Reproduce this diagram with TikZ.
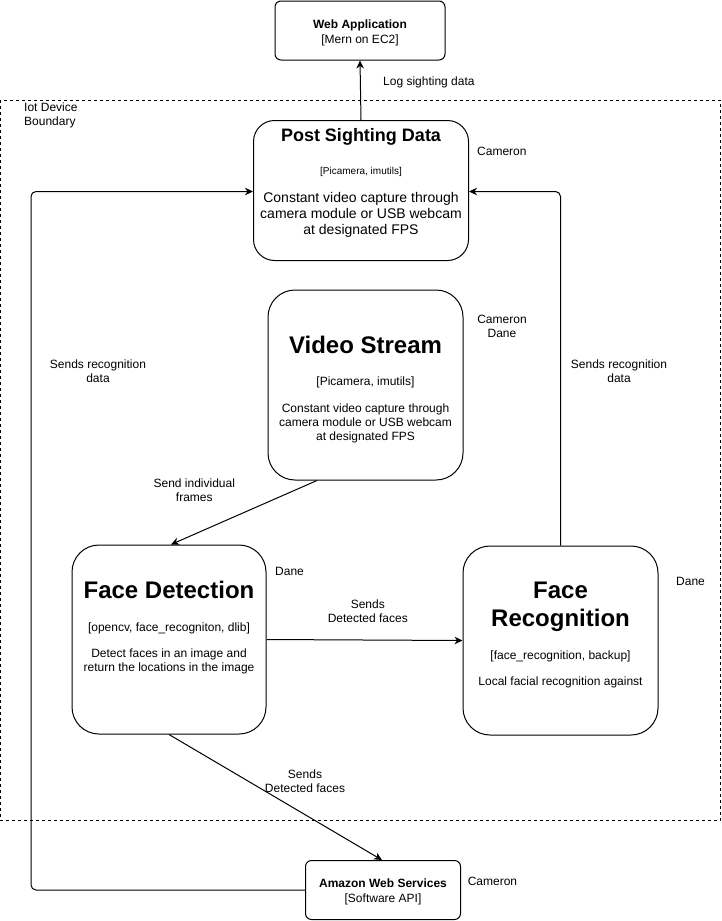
\documentclass[tikz,border=0pt]{standalone}
\usepackage{fontspec}
\setmainfont{Liberation Sans}
\usetikzlibrary{arrows.meta,calc,positioning}

\begin{document}
\begin{tikzpicture}[x=1pt,y=-1pt]
\tikzset{box/.style={draw, line width=1pt, rounded corners=#1, inner sep=0pt}}
\tikzset{txt/.style={anchor=north, align=center, inner sep=0pt}}
\tikzset{lbl/.style={inner sep=0pt, font=\fontsize{12}{14}\selectfont}}
\tikzset{arr/.style={line width=1pt, -{Stealth[length=8pt,width=7.5pt,inset=2.5pt]}}}
\useasboundingbox (0,0) rectangle (721,921);

% boundary of the device
\draw[line width=0.9pt, dash pattern=on 3pt off 3pt] (0.5,100) rectangle (720,820.5);
\node[lbl, anchor=north west, align=left] (iot) at (24,102.7) {Iot Device\\Boundary};

% boxes
\node[box=6pt, minimum width=170pt, minimum height=59pt] (WA) at (360,30.5) {};
\node[txt, font=\fontsize{12}{14.5}\selectfont] (WAt) at (360,19.7) {\textbf{Web Application}\\{}[Mern on EC2]};

\node[box=21pt, minimum width=215pt, minimum height=140pt] (PS) at (361,190.5) {};
\node[txt, font=\bfseries\fontsize{18}{21}\selectfont] (PSt) at (361,128.5) {Post Sighting Data};
\node[txt, font=\fontsize{10}{12}\selectfont] (PSl) at (361,167.4) {[Picamera, imutils]};
\node[txt, font=\fontsize{14}{16}\selectfont] (PSd) at (361,192.3) {Constant video capture through\\camera module or USB webcam\\at designated FPS};

\node[box=27pt, minimum width=195pt, minimum height=190pt] (VS) at (365.5,385) {};
\node[txt, font=\bfseries\fontsize{24}{28}\selectfont] (VSt) at (365.5,336.4) {Video Stream};
\node[txt, font=\fontsize{12}{14}\selectfont] (VSl) at (365.5,376.4) {[Picamera, imutils]};
\node[txt, font=\fontsize{12}{14}\selectfont] (VSd) at (365.5,403.4) {Constant video capture through\\camera module or USB webcam\\at designated FPS};

\node[box=27pt, minimum width=194pt, minimum height=189pt] (FD) at (169,639.5) {};
\node[txt, font=\bfseries\fontsize{24}{28}\selectfont] (FDt) at (169,581.4) {Face Detection};
\node[txt, font=\fontsize{12}{14}\selectfont] (FDl) at (169,622.7) {[opencv, face\_recogniton, dlib]};
\node[txt, font=\fontsize{12}{14}\selectfont] (FDd) at (169,648.7) {Detect faces in an image and\\return the locations in the image};

\node[box=27pt, minimum width=195pt, minimum height=189pt] (FR) at (560.5,640.5) {};
\node[txt, font=\bfseries\fontsize{24}{28}\selectfont] (FRt) at (560.5,581.4) {Face\\Recognition};
\node[txt, font=\fontsize{12}{14}\selectfont] (FRl) at (560.5,650.7) {[face\_recognition, backup]};
\node[txt, font=\fontsize{12}{14}\selectfont] (FRd) at (560.5,676.7) {Local facial recognition against};

\node[box=6pt, minimum width=155pt, minimum height=59pt] (AWS) at (383,890) {};
\node[txt, font=\fontsize{12}{14.7}\selectfont] (AWSt) at (383,878.7) {\textbf{Amazon Web Services}\\{}[Software API]};

% who works on what
\node[lbl, anchor=north west] (camPS) at (477,146.7) {Cameron};
\node[lbl, anchor=north, align=center] (camVS) at (502,314.7) {Cameron\\Dane};
\node[lbl, anchor=north west] (daneFD) at (275,566.7) {Dane};
\node[lbl, anchor=north west] (daneFR) at (676,576.7) {Dane};
\node[lbl, anchor=north west] (camAWS) at (467.6,876.7) {Cameron};

% connectors
\coordinate (L) at (31,0);
\draw[arr] (PS.north) -- (WA.south);
\draw[arr] ($(VS.south)+(-48.5,0)$) -- ($(FD.north)+(2,0)$);
\draw[arr] (FD.east) -- (FR.west);
\draw[arr] (FD.south) -- ($(AWS.north)+(-1,0)$);
\draw[arr, rounded corners=5pt] (AWS.west) -| ($(L |- PS.west)+(0,1)$) -- ($(PS.west)+(0,1)$);
\draw[arr, rounded corners=5pt] (FR.north) |- ($(PS.east)+(0,1)$);

% connector labels
\node[lbl, anchor=north west] (logl) at (383,76.4) {Log sighting data};
\node[lbl, anchor=north, align=center] (framesl) at (194.3,479) {Send individual\\frames};
\node[lbl, anchor=north, align=center] (facesl) at (367.8,599.7) {Sends\\Detected faces};
\node[lbl, anchor=north, align=center] (awsl) at (305,769.4) {Sends\\Detected faces};
\node[lbl, anchor=north, align=center] (recl) at (98,359.7) {Sends recognition\\data};
\node[lbl, anchor=north, align=center] (recr) at (619,359.7) {Sends recognition\\data};
\end{tikzpicture}
\end{document}
